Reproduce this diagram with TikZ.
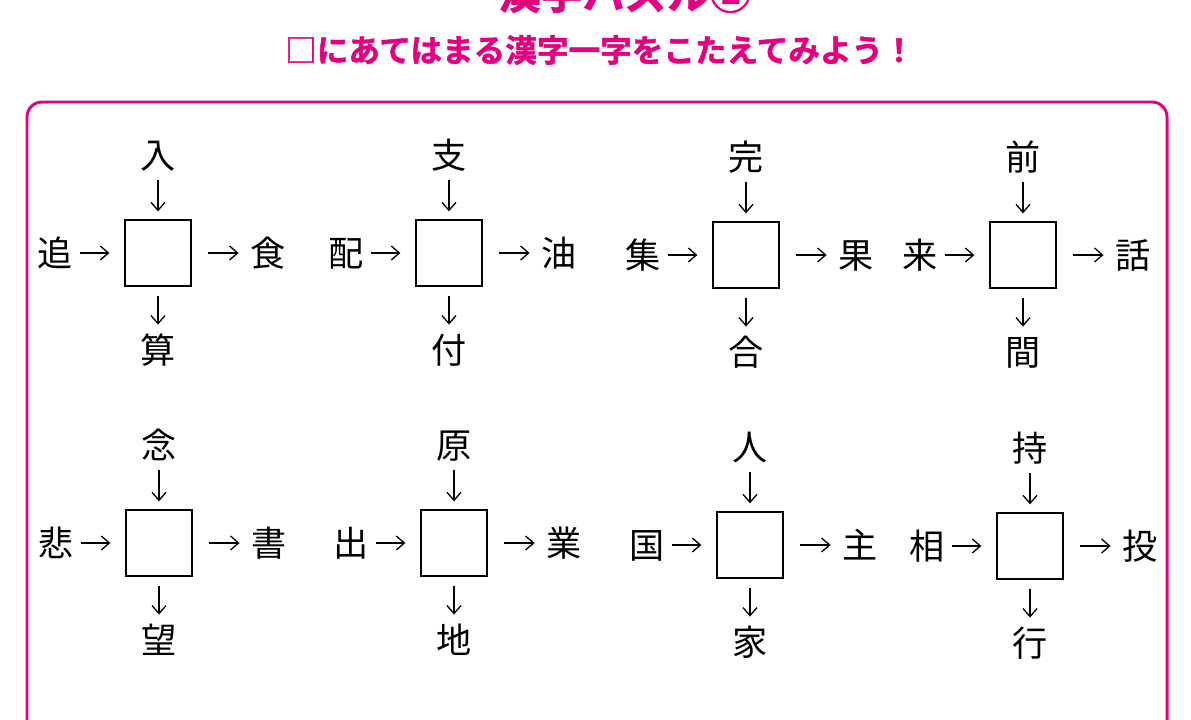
\documentclass[tikz,border=0pt]{standalone}
\usepackage{fontspec}
\newfontfamily\cjk{Noto Sans CJK JP}
\newfontfamily\cjkbold[FakeBold=1.5]{Noto Sans CJK JP Bold}
\usetikzlibrary{arrows.meta}
\definecolor{quizpink}{HTML}{E4007F}

\begin{document}
\begin{tikzpicture}[x=0.02cm, y=-0.02cm, font=\cjk\fontsize{20}{20}\selectfont]
%% coordinates are pixels of the 1191x720 sheet, y grows downwards
%% the blank square of every puzzle is placed at its centre,
%% the four kanji sit at fixed offsets (-103,+110 across, -98,+97 down)
\tikzstyle{blank}=[draw, line width=0.75pt, minimum size=1.32cm, inner sep=0pt]
\tikzstyle{kanji}=[inner sep=0pt, text height=17.6pt, text depth=2.4pt]
\tikzstyle{arc}=[-{Straight Barb[length=0.16cm,width=0.28cm]}, line width=0.75pt]
\tikzstyle{arcFromLeft}=[arc, shorten <=0.15cm, shorten >=0.3cm]
\tikzstyle{arcToRight}=[arc, shorten <=0.32cm, shorten >=0.23cm]
\tikzstyle{arcFromUp}=[arc, shorten <=0.15cm, shorten >=0.16cm]
\tikzstyle{arcToDown}=[arc, shorten <=0.18cm, shorten >=0.15cm]
\useasboundingbox (0,0) rectangle (1191,720);
\clip (0,0) rectangle (1191,720);
%% heading %%
\node[anchor=base, text=quizpink, font=\cjkbold\fontsize{24}{24}\selectfont] at (625,9) (Title) {漢字パズル②};
\node[text=quizpink, font=\cjkbold\fontsize{18}{18}\selectfont] at (600,50) (Instruction) {□にあてはまる漢字一字をこたえてみよう！};
%% frame, open at the bottom edge of the sheet
\draw[quizpink, line width=1.7pt, rounded corners=0.3cm] (27,740) -- (27,102) -- (1167,102) -- (1167,740);
%% puzzle 1
\node[blank] at (158,253) (Blank_1) {};
\node[kanji] at (158,155) (Up_1) {入};
\node[kanji] at (55,253) (Left_1) {追};
\node[kanji] at (268,253) (Right_1) {食};
\node[kanji] at (158,350) (Down_1) {算};
\draw[arcFromUp] (Up_1) -- (Blank_1);
\draw[arcFromLeft] (Left_1) -- (Blank_1);
\draw[arcToRight] (Blank_1) -- (Right_1);
\draw[arcToDown] (Blank_1) -- (Down_1);
%% puzzle 2
\node[blank] at (449,253) (Blank_2) {};
\node[kanji] at (449,155) (Up_2) {支};
\node[kanji] at (346,253) (Left_2) {配};
\node[kanji] at (559,253) (Right_2) {油};
\node[kanji] at (449,350) (Down_2) {付};
\draw[arcFromUp] (Up_2) -- (Blank_2);
\draw[arcFromLeft] (Left_2) -- (Blank_2);
\draw[arcToRight] (Blank_2) -- (Right_2);
\draw[arcToDown] (Blank_2) -- (Down_2);
%% puzzle 3
\node[blank] at (746,255) (Blank_3) {};
\node[kanji] at (746,157) (Up_3) {完};
\node[kanji] at (643,255) (Left_3) {集};
\node[kanji] at (856,255) (Right_3) {果};
\node[kanji] at (746,352) (Down_3) {合};
\draw[arcFromUp] (Up_3) -- (Blank_3);
\draw[arcFromLeft] (Left_3) -- (Blank_3);
\draw[arcToRight] (Blank_3) -- (Right_3);
\draw[arcToDown] (Blank_3) -- (Down_3);
%% puzzle 4
\node[blank] at (1023,255) (Blank_4) {};
\node[kanji] at (1023,157) (Up_4) {前};
\node[kanji] at (920,255) (Left_4) {来};
\node[kanji] at (1133,255) (Right_4) {話};
\node[kanji] at (1023,352) (Down_4) {間};
\draw[arcFromUp] (Up_4) -- (Blank_4);
\draw[arcFromLeft] (Left_4) -- (Blank_4);
\draw[arcToRight] (Blank_4) -- (Right_4);
\draw[arcToDown] (Blank_4) -- (Down_4);
%% puzzle 5
\node[blank] at (159,543) (Blank_5) {};
\node[kanji] at (159,445) (Up_5) {念};
\node[kanji] at (56,543) (Left_5) {悲};
\node[kanji] at (269,543) (Right_5) {書};
\node[kanji] at (159,640) (Down_5) {望};
\draw[arcFromUp] (Up_5) -- (Blank_5);
\draw[arcFromLeft] (Left_5) -- (Blank_5);
\draw[arcToRight] (Blank_5) -- (Right_5);
\draw[arcToDown] (Blank_5) -- (Down_5);
%% puzzle 6
\node[blank] at (454,543) (Blank_6) {};
\node[kanji] at (454,445) (Up_6) {原};
\node[kanji] at (351,543) (Left_6) {出};
\node[kanji] at (564,543) (Right_6) {業};
\node[kanji] at (454,640) (Down_6) {地};
\draw[arcFromUp] (Up_6) -- (Blank_6);
\draw[arcFromLeft] (Left_6) -- (Blank_6);
\draw[arcToRight] (Blank_6) -- (Right_6);
\draw[arcToDown] (Blank_6) -- (Down_6);
%% puzzle 7
\node[blank] at (750,545) (Blank_7) {};
\node[kanji] at (750,447) (Up_7) {人};
\node[kanji] at (647,545) (Left_7) {国};
\node[kanji] at (860,545) (Right_7) {主};
\node[kanji] at (750,642) (Down_7) {家};
\draw[arcFromUp] (Up_7) -- (Blank_7);
\draw[arcFromLeft] (Left_7) -- (Blank_7);
\draw[arcToRight] (Blank_7) -- (Right_7);
\draw[arcToDown] (Blank_7) -- (Down_7);
%% puzzle 8
\node[blank] at (1030,546) (Blank_8) {};
\node[kanji] at (1030,448) (Up_8) {持};
\node[kanji] at (927,546) (Left_8) {相};
\node[kanji] at (1140,546) (Right_8) {投};
\node[kanji] at (1030,643) (Down_8) {行};
\draw[arcFromUp] (Up_8) -- (Blank_8);
\draw[arcFromLeft] (Left_8) -- (Blank_8);
\draw[arcToRight] (Blank_8) -- (Right_8);
\draw[arcToDown] (Blank_8) -- (Down_8);
\end{tikzpicture}
\end{document}
